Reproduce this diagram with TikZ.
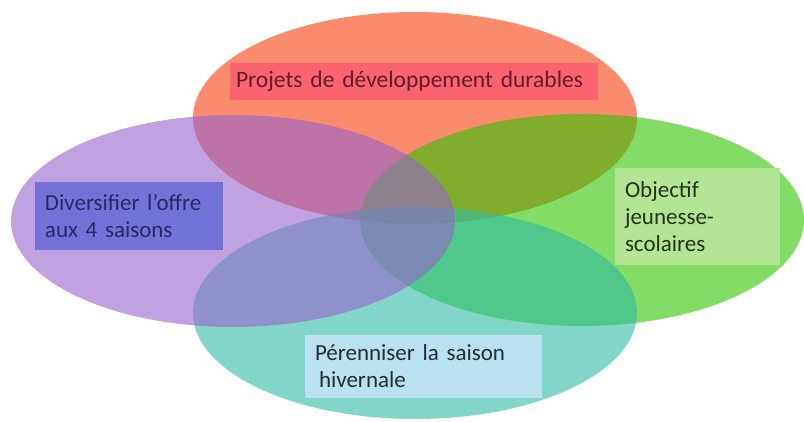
\documentclass[tikz,border=0pt]{standalone}
\usepackage{fontspec}
\setmainfont{Carlito}
\definecolor{cOr}{RGB}{247,63,13}
\definecolor{cGr}{RGB}{47,197,0}
\definecolor{cTe}{RGB}{47,188,163}
\definecolor{cPu}{RGB}{150,100,205}
\definecolor{bTop}{RGB}{250,100,110}
\definecolor{bLeft}{RGB}{115,115,215}
\definecolor{bRight}{RGB}{178,230,148}
\definecolor{bBot}{RGB}{185,225,240}
\definecolor{tTop}{RGB}{100,28,42}
\definecolor{tLeft}{RGB}{40,40,105}
\definecolor{tRight}{RGB}{35,50,25}
\definecolor{tBot}{RGB}{35,45,45}
\newcommand{\myfontA}{\fontsize{23}{27}\selectfont\spaceskip=0.18em\relax}
\newcommand{\myfontB}{\fontsize{23.5}{27}\selectfont\spaceskip=0.18em\relax}
\tikzset{
  ell/.style={fill opacity=0.6},
  lbl/.style={inner sep=0pt, font=\myfontA},
  lblbox/.style={lbl, align=left, inner xsep=10pt}
}
\begin{document}
\begin{tikzpicture}[x=1pt,y=-1pt]
\useasboundingbox (0,0) rectangle (804,422);
\fill[white] (0,0) rectangle (804,422);
% ellipses
\fill[cOr, ell] (415,118) ellipse [x radius=222, y radius=106];
\fill[cGr, ell] (582,220) ellipse [x radius=222, y radius=106];
\fill[cTe, ell] (415,313) ellipse [x radius=222, y radius=106];
\fill[cPu, ell] (233,221) ellipse [x radius=222, y radius=106];
% labels
\node[lblbox, inner xsep=6pt, fill=bTop, text=tTop, text width=356pt, minimum height=37pt,
  font=\myfontB]
  (top) at (414,81.5) {Projets de développement durables};
\node[lblbox, fill=bLeft, text=tLeft, text width=168pt, minimum height=68pt]
  (left) at (129,216) {Diversifier l’offre\\aux 4 saisons};
\node[lblbox, fill=bRight, text=tRight, text width=145pt, minimum height=97pt]
  (right) at (697.5,216.5) {Objectif\\jeunesse-\\scolaires};
\node[lblbox, fill=bBot, text=tBot, text width=217pt, minimum height=63pt]
  (bot) at (423.5,366.5) {Pérenniser la saison\\\hspace*{4pt}hivernale};
\end{tikzpicture}
\end{document}
